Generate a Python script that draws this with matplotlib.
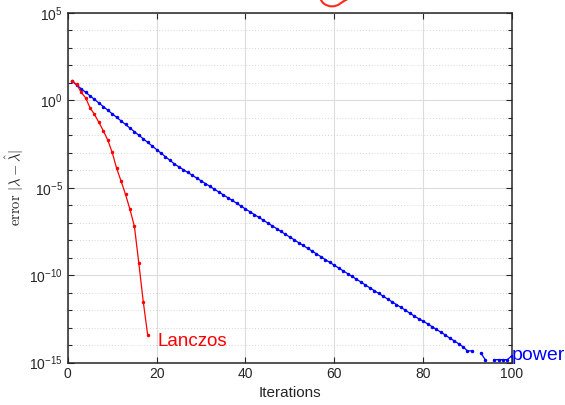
import numpy as np
import matplotlib
matplotlib.use("Agg")
import matplotlib.pyplot as plt
from matplotlib.ticker import FixedLocator, LogFormatterSciNotation, NullFormatter
from matplotlib.lines import Line2D

plt.rcParams['font.family'] = ['Liberation Sans', 'DejaVu Sans']
plt.rcParams['mathtext.fontset'] = 'custom'
plt.rcParams['mathtext.rm'] = 'Liberation Sans'

# log10 of the error (NaN = exact zero, not drawn)
lanczos_iter = list(range(1, 19))
lanczos_log10 = [1.08, 0.92, 0.46, 0.15, -0.42, -0.80, -1.26, -1.74, -2.27,
                 -2.98, -3.89, -4.62, -5.38, -6.24, -7.21, -9.33, -11.53, -13.45]

power_iter = list(range(1, 101))
power_log10 = [
    1.08, 0.875, 0.67, 0.465, 0.26, 0.055, -0.15, -0.355, -0.56, -0.765,
    -0.97, -1.175, -1.38, -1.585, -1.79, -1.995, -2.20, -2.405, -2.61, -2.815,
    -3.02, -3.225, -3.43, -3.635, -3.80, -3.96, -4.12, -4.28, -4.44, -4.60,
    -4.76, -4.92, -5.08, -5.24, -5.40, -5.56, -5.72, -5.88, -6.05, -6.21,
    -6.37, -6.53, -6.69, -6.85, -7.01, -7.17, -7.33, -7.50, -7.66, -7.82,
    -7.98, -8.14, -8.30, -8.46, -8.62, -8.78, -8.94, -9.11, -9.27, -9.43,
    -9.59, -9.75, -9.91, -10.07, -10.23, -10.39, -10.56, -10.72, -10.88, -11.04,
    -11.20, -11.36, -11.52, -11.68, -11.84, -12.00, -12.17, -12.33, -12.49, -12.62,
    -12.78, -12.94, -13.10, -13.26, -13.42, -13.60, -13.75, -13.92, -14.10, -14.33,
    -14.33, np.nan, -14.45, -14.83, np.nan, -14.83, -14.83, -14.83, -14.83, -14.60]

x_ticks = [0, 20, 40, 60, 80, 100]
y_major_exp = [-15, -10, -5, 0, 5]

lanczos_err = 10.0 ** np.array(lanczos_log10)
power_err = 10.0 ** np.array(power_log10, dtype=float)

fig = plt.figure(figsize=(5.65, 4.05), dpi=100)
ax = fig.add_axes([0.120, 0.1047, 0.786, 0.8633])

ax.semilogy(power_iter, power_err, '-', color='#0000ff', lw=0.9,
            marker='.', markersize=3.0, zorder=3)
ax.semilogy(lanczos_iter, lanczos_err, '-', color='#ff0000', lw=0.9,
            marker='.', markersize=3.0, zorder=4)

ax.set_xlim(0, 100)
ax.set_ylim(1e-15, 1e5)
ax.xaxis.set_major_locator(FixedLocator(x_ticks))
ax.yaxis.set_major_locator(FixedLocator([10.0 ** e for e in y_major_exp]))
ax.yaxis.set_major_formatter(LogFormatterSciNotation())
ax.yaxis.set_minor_locator(FixedLocator([10.0 ** e for e in range(-15, 6)
                                         if e not in y_major_exp]))
ax.yaxis.set_minor_formatter(NullFormatter())

spine_c = '#262626'
for s in ax.spines.values():
    s.set_color(spine_c)
    s.set_linewidth(1.1)

ax.tick_params(which='both', direction='in', top=True, right=True,
               colors=spine_c, labelcolor=spine_c, labelsize=10)
ax.tick_params(which='major', length=4, width=0.8)
ax.tick_params(which='minor', length=3, width=0.8)

ax.grid(True, which='major', color='#dcdcdc', lw=0.8, ls='-')
ax.grid(True, which='minor', axis='y', color='#c8c8c8', lw=0.6, ls=(0, (1, 2.5)))
ax.set_axisbelow(True)

ax.set_xlabel('Iterations', fontsize=11, color=spine_c, labelpad=3)
ax.set_ylabel(r'$\mathrm{error}\ |\lambda-\hat{\lambda}|$', fontsize=10.5,
              color=spine_c, math_fontfamily='cm', labelpad=2)

ax.text(20.1, 10 ** -13.78, 'Lanczos', color='#ff0000', fontsize=13.5,
        ha='left', va='center')
ax.text(100.0, 10 ** -14.6, 'power', color='#0000ff', fontsize=14,
        ha='left', va='center', clip_on=False)

# red annotation squiggle cut off at the top edge of the figure
sq_x = np.array([321, 323, 326, 330, 334, 338, 341, 344, 346]) / 565.0
sq_y = 1 - np.array([0, 3, 5, 6.3, 6.3, 5, 3, 1, 0]) / 405.0
fig.add_artist(Line2D(sq_x, sq_y, color='#ff2a1a', lw=1.5,
                      transform=fig.transFigure))

fig.savefig('out.png', dpi=100)
